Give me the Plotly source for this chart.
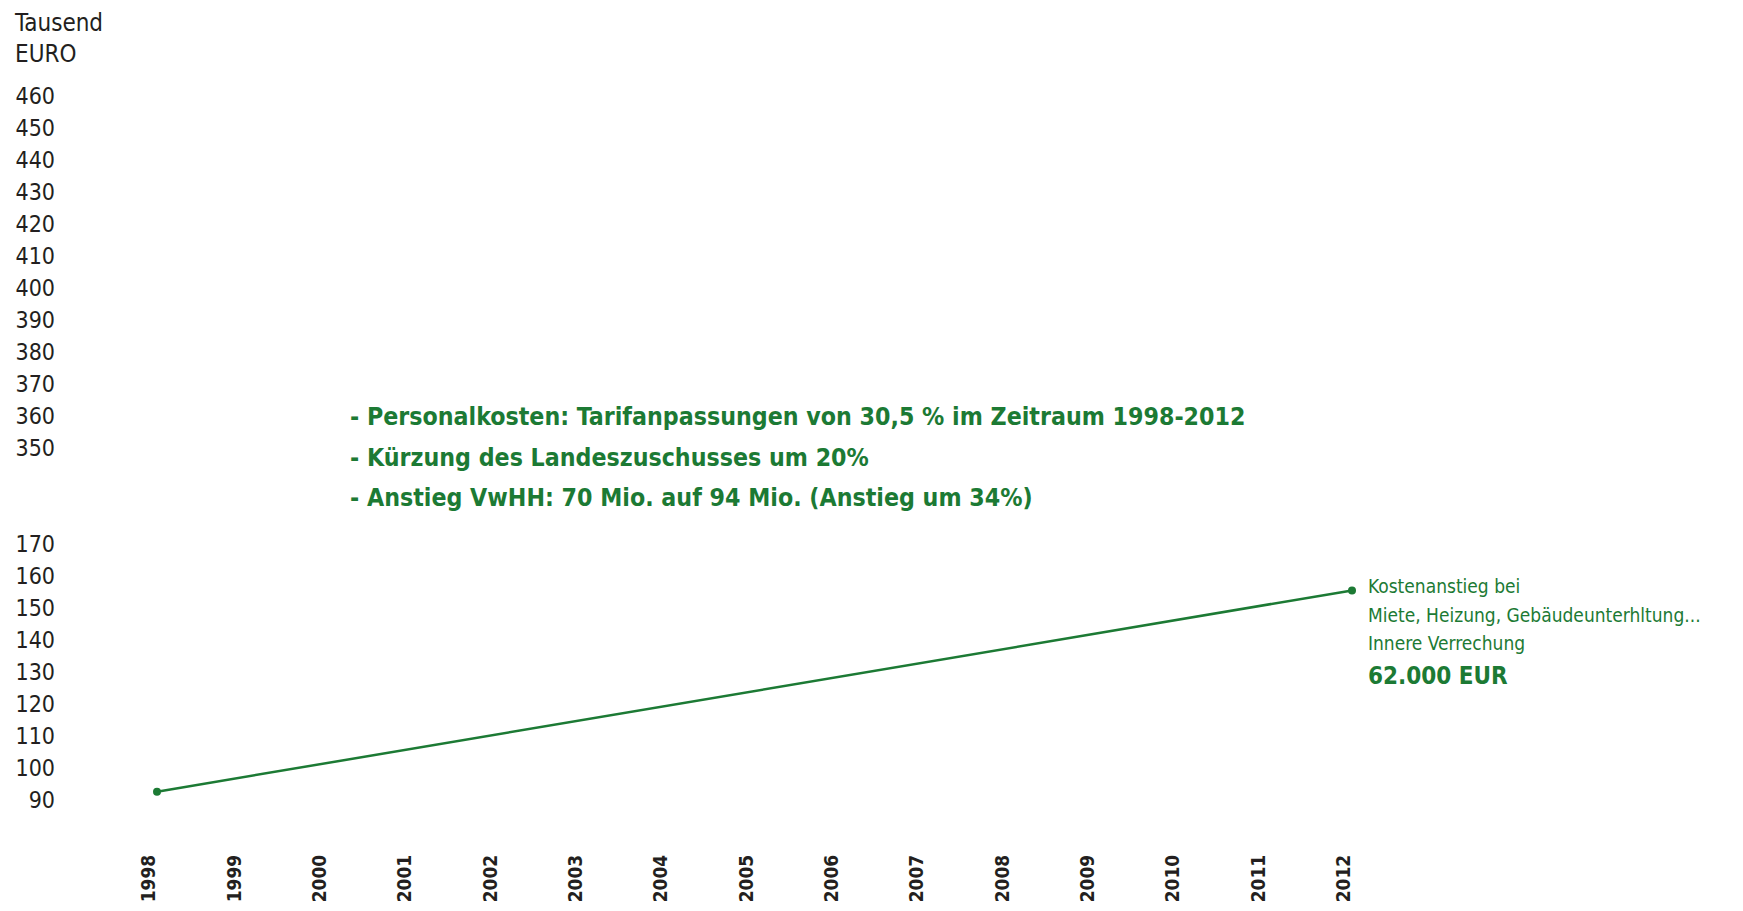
import plotly.graph_objects as go

# data
years = [1998, 2012]
costs = [92.6, 155.5]  # Tausend EURO
year_ticks = list(range(1998, 2013))
lower_ticks = [90, 100, 110, 120, 130, 140, 150, 160, 170]
upper_ticks = [350, 360, 370, 380, 390, 400, 410, 420, 430, 440, 450, 460]

notes = [
    "- Personalkosten: Tarifanpassungen von 30,5 % im Zeitraum 1998-2012",
    "- Kürzung des Landeszuschusses um 20%",
    "- Anstieg VwHH: 70 Mio. auf 94 Mio. (Anstieg um 34%)",
]
side_note = ["Kostenanstieg bei", "Miete, Heizung, Gebäudeunterhltung...", "Innere Verrechung"]
side_total = "62.000 EUR"

GREEN = "#1c7a34"
DARK = "#231f20"
FONT = "DejaVu Sans Condensed, Liberation Sans Narrow, Arial Narrow, sans-serif"

# the page body has an 8px margin, so the figure is made smaller and
# all positions below are given in window pixels
OFF = 8
WIN_W, WIN_H = 1743, 911
W, H = WIN_W - 2 * OFF, WIN_H - 2 * OFF
L, R, T, B = 48, 0, 0, 53
plot_w = W - L - R
plot_h = H - T - B
left_px = OFF + L
bottom_px = OFF + H - B
right_px = OFF + W - R
PX_PER_UNIT = 3.2


def px_x(p):
    return (p - left_px) / plot_w


def px_y(p):
    return (bottom_px - p) / plot_h


def axis_part(val_at, px_at, top, bottom):
    # range and domain for a y-axis segment with a shared vertical scale
    lo = val_at - (bottom - px_at) / PX_PER_UNIT
    hi = val_at + (px_at - top) / PX_PER_UNIT
    return [lo, hi], [px_y(bottom), px_y(top)]


low_range, low_dom = axis_part(90, 800, 530, bottom_px)
up_range, up_dom = axis_part(350, 448, 80, 470)

x_per_year = (1352 - 157) / 14
x_range = [1998 - (157 - left_px) / x_per_year, 2012 + (right_px - 1352) / x_per_year]

fig = go.Figure()
fig.add_trace(go.Scatter(
    x=years, y=costs, mode="lines+markers",
    line=dict(color=GREEN, width=2.5),
    marker=dict(color=GREEN, size=8),
    hoverinfo="skip", showlegend=False,
))
fig.add_trace(go.Scatter(
    x=[years[0]], y=[upper_ticks[0]], yaxis="y2", mode="markers",
    marker=dict(opacity=0), hoverinfo="skip", showlegend=False,
))

tick_font = dict(family=FONT, size=23, color=DARK)
fig.update_layout(
    width=W, height=H,
    margin=dict(l=L, r=R, t=T, b=B, autoexpand=False),
    plot_bgcolor="white", paper_bgcolor="white",
    xaxis=dict(
        range=x_range, tickvals=year_ticks, ticktext=[str(y) for y in year_ticks],
        tickangle=-90, showgrid=False, zeroline=False, showline=False, ticks="",
        automargin=False, ticklabelshift=-8,
        tickfont=dict(family=FONT, size=19, color=DARK, weight="bold"),
    ),
    yaxis=dict(
        range=low_range, domain=low_dom, tickvals=lower_ticks, automargin=False,
        showgrid=False, zeroline=False, showline=False, ticks="", tickfont=tick_font,
    ),
    yaxis2=dict(
        range=up_range, domain=up_dom, tickvals=upper_ticks, anchor="x", automargin=False,
        showgrid=False, zeroline=False, showline=False, ticks="", tickfont=tick_font,
    ),
)

annotations = [
    dict(text="Tausend<br>EURO", x=px_x(13), y=px_y(OFF + 0.5), xanchor="left", yanchor="top",
         font=dict(family=FONT, size=24, color=DARK), align="left", borderpad=0),
]
for i, line in enumerate(notes):
    annotations.append(dict(
        text=line, x=px_x(348), y=px_y(417 + 40 * i), xanchor="left", yanchor="middle",
        font=dict(family=FONT, size=24.7, color=GREEN, weight="bold"), align="left",
    ))
for i, line in enumerate(side_note):
    annotations.append(dict(
        text=line, x=px_x(1366), y=px_y(586 + 28.5 * i), xanchor="left", yanchor="middle",
        font=dict(family=FONT, size=19, color=GREEN), align="left",
    ))
annotations.append(dict(
    text=side_total, x=px_x(1366), y=px_y(676), xanchor="left", yanchor="middle",
    font=dict(family=FONT, size=24, color=GREEN, weight="bold"), align="left",
))
for a in annotations:
    a.update(xref="paper", yref="paper", showarrow=False)
fig.update_layout(annotations=annotations)

fig.write_html("out.html")
